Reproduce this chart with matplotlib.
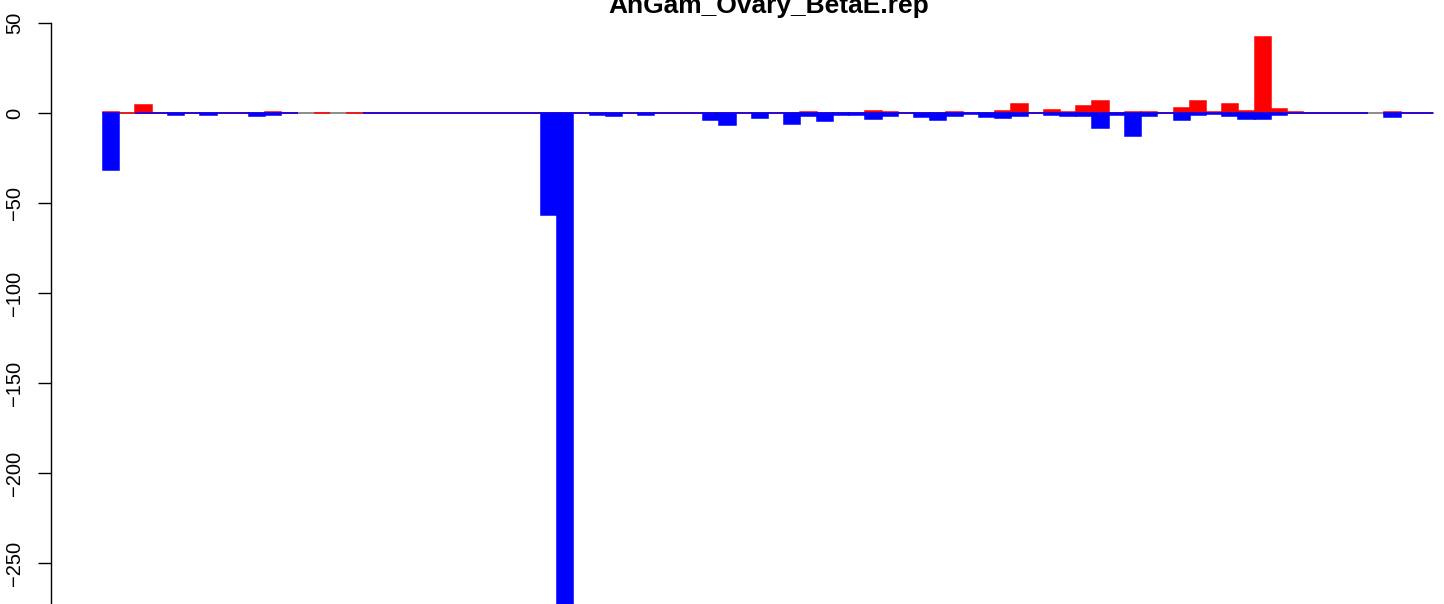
"""Barplot vermelho/azul (AnGam_Ovary_BetaE.rep) recriado em matplotlib."""

import numpy as np
import matplotlib
matplotlib.use("Agg")
import matplotlib.pyplot as plt

nan = np.nan

TITULO = "AnGam_Ovary_BetaE.rep"

# valores positivos (vermelho) por posição; nan = ausente
vermelho = [
    0.7, 0, 4.6, 0, 0.3, 0, 0.3, 0, 0, 0,
    0.7, 0, nan, 0, nan, 0, 0, 0, 0, 0,
    0, 0, 0, 0, 0, 0, 0, 0.3, 0.3, 0,
    0, 0.3, 0, 0, 0, 0, 0, 0.3, 0, 0,
    0, 0, 0, 0.5, 0, 0, 0, 1.3, 0.7, 0,
    0, 0.3, 0.7, 0.3, 0, 1.3, 5.2, 0, 1.9, 0.7,
    4.1, 6.9, 0.3, 0.7, 0.7, 0, 3.0, 6.9, 0.7, 5.2,
    1.3, 42.4, 2.4, 0.7, 0, 0, 0, 0, nan, 0.7,
    0, 0,
]

# valores negativos (azul) por posição
azul = [
    -31.7, nan, 0, 0, -0.7, 0, -0.8, 0, 0, -1.3,
    -0.7, 0, nan, nan, nan, nan, 0, 0, 0, 0,
    0, 0, 0, 0, 0, 0, 0, -56.7, -290, 0,
    -0.7, -1.3, 0, -0.7, 0, 0, 0, -3.5, -6.3, 0,
    -2.4, 0, -5.7, -1.7, -4.1, -1.0, -1.0, -3.0, -1.3, 0,
    -1.9, -3.5, -1.3, -0.5, -1.9, -2.5, -1.3, 0, -0.9, -1.5,
    -1.5, -8.1, -1.1, -12.6, -1.5, 0, -3.7, -0.7, -0.4, -1.5,
    -3.1, -3.1, -0.9, 0, 0, 0, 0, 0, nan, -2.0,
    0, 0,
]

ticks_y = [50, 0, -50, -100, -150, -200, -250]

plt.rcParams["font.family"] = ["Liberation Sans", "DejaVu Sans"]

W, H = 1444, 604
fig = plt.figure(figsize=(W / 100, H / 100), dpi=100)
ax = fig.add_axes([0, 0, 1, 1])

# escala: borda esquerda da barra i em 103 + 16.22*i px; zero em y=113.3 px
passo, x0 = 16.22, 103.0
py0, ppu = 113.3, 1.8
ax.set_xlim(-x0 / passo, (W - x0) / passo)
ax.set_ylim((py0 - H) / ppu, py0 / ppu)

n = len(vermelho)
pos = np.arange(n)
vr = np.array(vermelho, dtype=float)
va = np.array(azul, dtype=float)

ax.plot([0, n], [0, 0], color="#8c8c8c", lw=1.4, zorder=1)

m = np.isfinite(vr)
ax.bar(pos[m], vr[m], width=1, align="edge", color="#FF0000",
       edgecolor="#FF0000", linewidth=1.1, zorder=2)
m = np.isfinite(va)
ax.bar(pos[m], va[m], width=1, align="edge", color="#0000FF",
       edgecolor="#0000FF", linewidth=1.1, zorder=3)

for lado in ("top", "right", "bottom"):
    ax.spines[lado].set_visible(False)
ax.spines["left"].set_position(("data", (50.7 - x0) / passo))
ax.spines["left"].set_bounds(-400, 50)
ax.spines["left"].set_linewidth(1.0)
ax.set_xticks([])
ax.set_yticks(ticks_y)
ax.set_yticklabels([str(t).replace("-", "\u2212") for t in ticks_y],
                   rotation=90, va="center")
ax.tick_params(axis="y", direction="out", length=9.5, width=1.0,
               pad=9.5, labelsize=14.5)

fig.text(768.5 / W, 1 - 12.5 / H, TITULO, ha="center", va="baseline",
         fontsize=19, fontweight="bold")

fig.savefig("out.png", dpi=100)
